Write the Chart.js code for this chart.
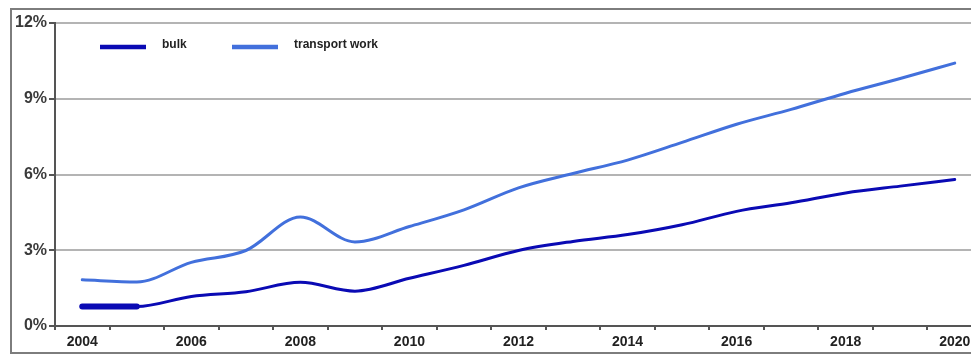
<!DOCTYPE html>
<html>
<head>
<meta charset="utf-8">
<script src="https://cdn.jsdelivr.net/npm/chart.js@4/dist/chart.umd.min.js"></script>
<style>
    html, body { margin: 0; padding: 0; background: #fff; overflow: hidden; width: 971px; height: 356px; }
    #moldura { position: absolute; left: 10px; top: 8px; width: 1100px; height: 342px; border: 2px solid #7d7d7d; }
    #caixa { position: absolute; left: 0; top: 0; width: 1000px; height: 356px; }
</style>
</head>
<body>
<div id="moldura"></div>
<div id="caixa"><canvas id="graficoCrescimento"></canvas></div>
<script>
// Dados (% ao ano)
const anos = ['2004', '2005', '2006', '2007', '2008', '2009', '2010', '2011', '2012',
    '2013', '2014', '2015', '2016', '2017', '2018', '2019', '2020'];
const bulk = [0.77, 0.77, 1.17, 1.36, 1.73, 1.38, 1.89, 2.4, 2.99,
    3.35, 3.62, 4.01, 4.54, 4.88, 5.27, 5.54, 5.8];
const transportWork = [1.83, 1.74, 2.52, 2.99, 4.32, 3.33, 3.94, 4.6, 5.47,
    6.04, 6.57, 7.27, 7.99, 8.58, 9.22, 9.8, 10.41];
const ticksY = [0, 3, 6, 9, 12];

const corBulk = '#0a0ab4';
const corTransporte = '#4270dc';
const fonte = '"Liberation Sans", Arial, sans-serif';

// Legenda desenhada dentro da área do gráfico
const legendaInterna = {
    id: 'legendaInterna',
    afterDraw(chart) {
        const ctx = chart.ctx;
        const posicoes = [100, 232];
        ctx.save();
        chart.data.datasets.forEach(function (ds, i) {
            const x = posicoes[i];
            const y = 47;
            ctx.strokeStyle = ds.borderColor;
            ctx.lineWidth = 4.5;
            ctx.lineCap = 'butt';
            ctx.beginPath();
            ctx.moveTo(x, y);
            ctx.lineTo(x + 46, y);
            ctx.stroke();
            ctx.fillStyle = '#222';
            ctx.font = 'bold 12px ' + fonte;
            ctx.textBaseline = 'middle';
            ctx.fillText(ds.label, x + 62, y - 2);
        });
        ctx.restore();
    }
};

const ctx = document.getElementById('graficoCrescimento').getContext('2d');
new Chart(ctx, {
    type: 'line',
    data: {
        labels: anos,
        datasets: [{
            label: 'bulk',
            data: bulk,
            borderColor: corBulk,
            backgroundColor: corBulk,
            borderWidth: 3,
            borderCapStyle: 'round',
            pointRadius: 0,
            cubicInterpolationMode: 'monotone',
            segment: {
                // primeiro trecho mais grosso, como no original
                borderWidth: function (c) { return c.p0DataIndex === 0 ? 6 : undefined; }
            }
        }, {
            label: 'transport work',
            data: transportWork,
            borderColor: corTransporte,
            backgroundColor: corTransporte,
            borderWidth: 3,
            borderCapStyle: 'round',
            pointRadius: 0,
            cubicInterpolationMode: 'monotone'
        }]
    },
    options: {
        responsive: true,
        maintainAspectRatio: false,
        animation: false,
        layout: { padding: { top: 23, right: 18, bottom: 0, left: 0 } },
        plugins: {
            legend: { display: false },
            tooltip: { enabled: false }
        },
        scales: {
            x: {
                type: 'category',
                offset: true,
                border: { color: '#555', width: 2 },
                grid: {
                    offset: true,
                    drawOnChartArea: false,
                    drawTicks: true,
                    tickLength: 4,
                    color: '#555',
                    lineWidth: 2
                },
                ticks: {
                    autoSkip: false,
                    maxRotation: 0,
                    padding: 4,
                    color: '#222',
                    font: { family: fonte, size: 14, weight: 'bold' },
                    callback: function (v, i) { return i % 2 === 0 ? this.getLabelForValue(v) : ''; }
                },
                afterFit: function (s) { s.height = 30; }
            },
            y: {
                min: 0,
                max: 12,
                afterBuildTicks: function (s) { s.ticks = ticksY.map(function (v) { return { value: v }; }); },
                border: { color: '#555', width: 2 },
                grid: {
                    color: function (c) { return c.tick && c.tick.value === 0 ? '#555' : '#b4b4b4'; },
                    lineWidth: 2,
                    tickColor: '#555',
                    tickLength: 6
                },
                ticks: {
                    padding: 2,
                    color: '#3a3a3a',
                    font: { family: fonte, size: 16, weight: 'bold' },
                    callback: function (v) { return v + '%'; }
                },
                afterFit: function (s) { s.width = 55; }
            }
        }
    },
    plugins: [legendaInterna]
});
</script>
</body>
</html>
